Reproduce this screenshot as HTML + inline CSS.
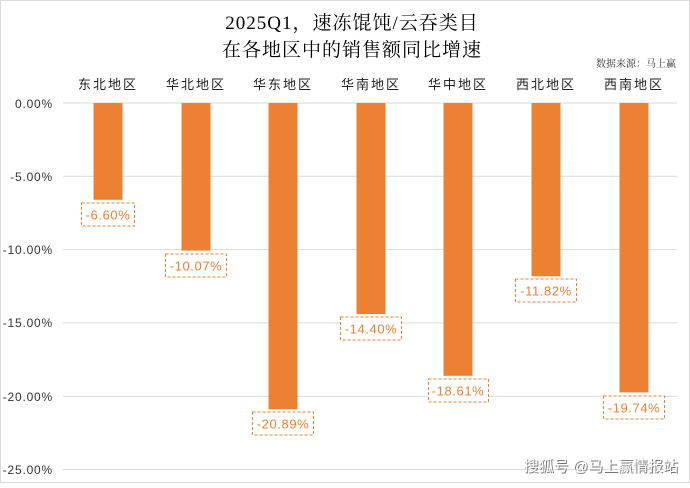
<!DOCTYPE html>
<html><head><meta charset="utf-8"><style>
body{margin:0;background:#fff}
svg text{font-family:"Liberation Sans","Noto Sans CJK SC",sans-serif}
.s{font-family:"Liberation Serif","Noto Serif CJK SC",serif}
</style></head><body>
<svg width="690" height="483" xmlns="http://www.w3.org/2000/svg">
<rect x="0.5" y="0.5" width="689" height="482" fill="#fff" stroke="#d9d9d9"/>
<text class="s" x="352" y="29" font-size="19" text-anchor="middle" fill="#000" letter-spacing="1">2025Q1，速冻馄饨/云吞类目</text>
<text class="s" x="352" y="56" font-size="19" text-anchor="middle" fill="#000" letter-spacing="1">在各地区中的销售额同比增速</text>
<text class="s" x="676" y="67" font-size="10" text-anchor="end" fill="#333">数据来源：马上赢</text>
<g stroke="#d9d9d9" stroke-width="1">
<line x1="63" x2="677" y1="103" y2="103"/>
<line x1="63" x2="677" y1="176.3" y2="176.3"/>
<line x1="63" x2="677" y1="249.6" y2="249.6"/>
<line x1="63" x2="677" y1="322.9" y2="322.9"/>
<line x1="63" x2="677" y1="396.2" y2="396.2"/>
<line x1="63" x2="677" y1="469.5" y2="469.5"/>
</g>
<g font-size="12" text-anchor="end" fill="#333" letter-spacing="0.8">
<text x="53" y="108">0.00%</text>
<text x="53" y="181">-5.00%</text>
<text x="53" y="254">-10.00%</text>
<text x="53" y="327">-15.00%</text>
<text x="53" y="401">-20.00%</text>
<text x="53" y="474">-25.00%</text>
</g>
<g class="s" font-size="13" text-anchor="middle" fill="#222" letter-spacing="2">
<text x="108" y="89">东北地区</text>
<text x="196" y="89">华北地区</text>
<text x="283" y="89">华东地区</text>
<text x="371" y="89">华南地区</text>
<text x="458" y="89">华中地区</text>
<text x="546" y="89">西北地区</text>
<text x="634" y="89">西南地区</text>
</g>
<g fill="#ed8133">
<rect x="93.5" y="103" width="29" height="96.8"/>
<rect x="181.5" y="103" width="29" height="147.6"/>
<rect x="268.5" y="103" width="29" height="306.3"/>
<rect x="356.5" y="103" width="29" height="211.1"/>
<rect x="443.5" y="103" width="29" height="272.8"/>
<rect x="531.5" y="103" width="29" height="173.3"/>
<rect x="619.5" y="103" width="29" height="289.4"/>
</g>
<g fill="#fff" stroke="#ed8133" stroke-dasharray="3,2" stroke-width="1">
<rect x="81.5" y="203" width="53" height="23"/>
<rect x="165.5" y="254" width="61" height="23"/>
<rect x="252.5" y="412" width="61" height="23"/>
<rect x="340.5" y="317" width="61" height="23"/>
<rect x="428.5" y="379" width="60" height="23"/>
<rect x="515.5" y="279" width="61" height="23"/>
<rect x="603.5" y="396" width="61" height="23"/>
</g>
<g font-size="13" text-anchor="middle" fill="#ed8133" letter-spacing="0.6">
<text x="108" y="219.5">-6.60%</text>
<text x="196" y="270.5">-10.07%</text>
<text x="283" y="428.5">-20.89%</text>
<text x="371" y="333.5">-14.40%</text>
<text x="458" y="395.5">-18.61%</text>
<text x="546" y="295.5">-11.82%</text>
<text x="634" y="412.5">-19.74%</text>
</g>
<g font-size="15" text-anchor="end">
<text x="679" y="472" fill="#777">搜狐号 @马上赢情报站</text>
<text x="678" y="471" fill="#fff">搜狐号 @马上赢情报站</text>
</g>
</svg>
</body></html>
